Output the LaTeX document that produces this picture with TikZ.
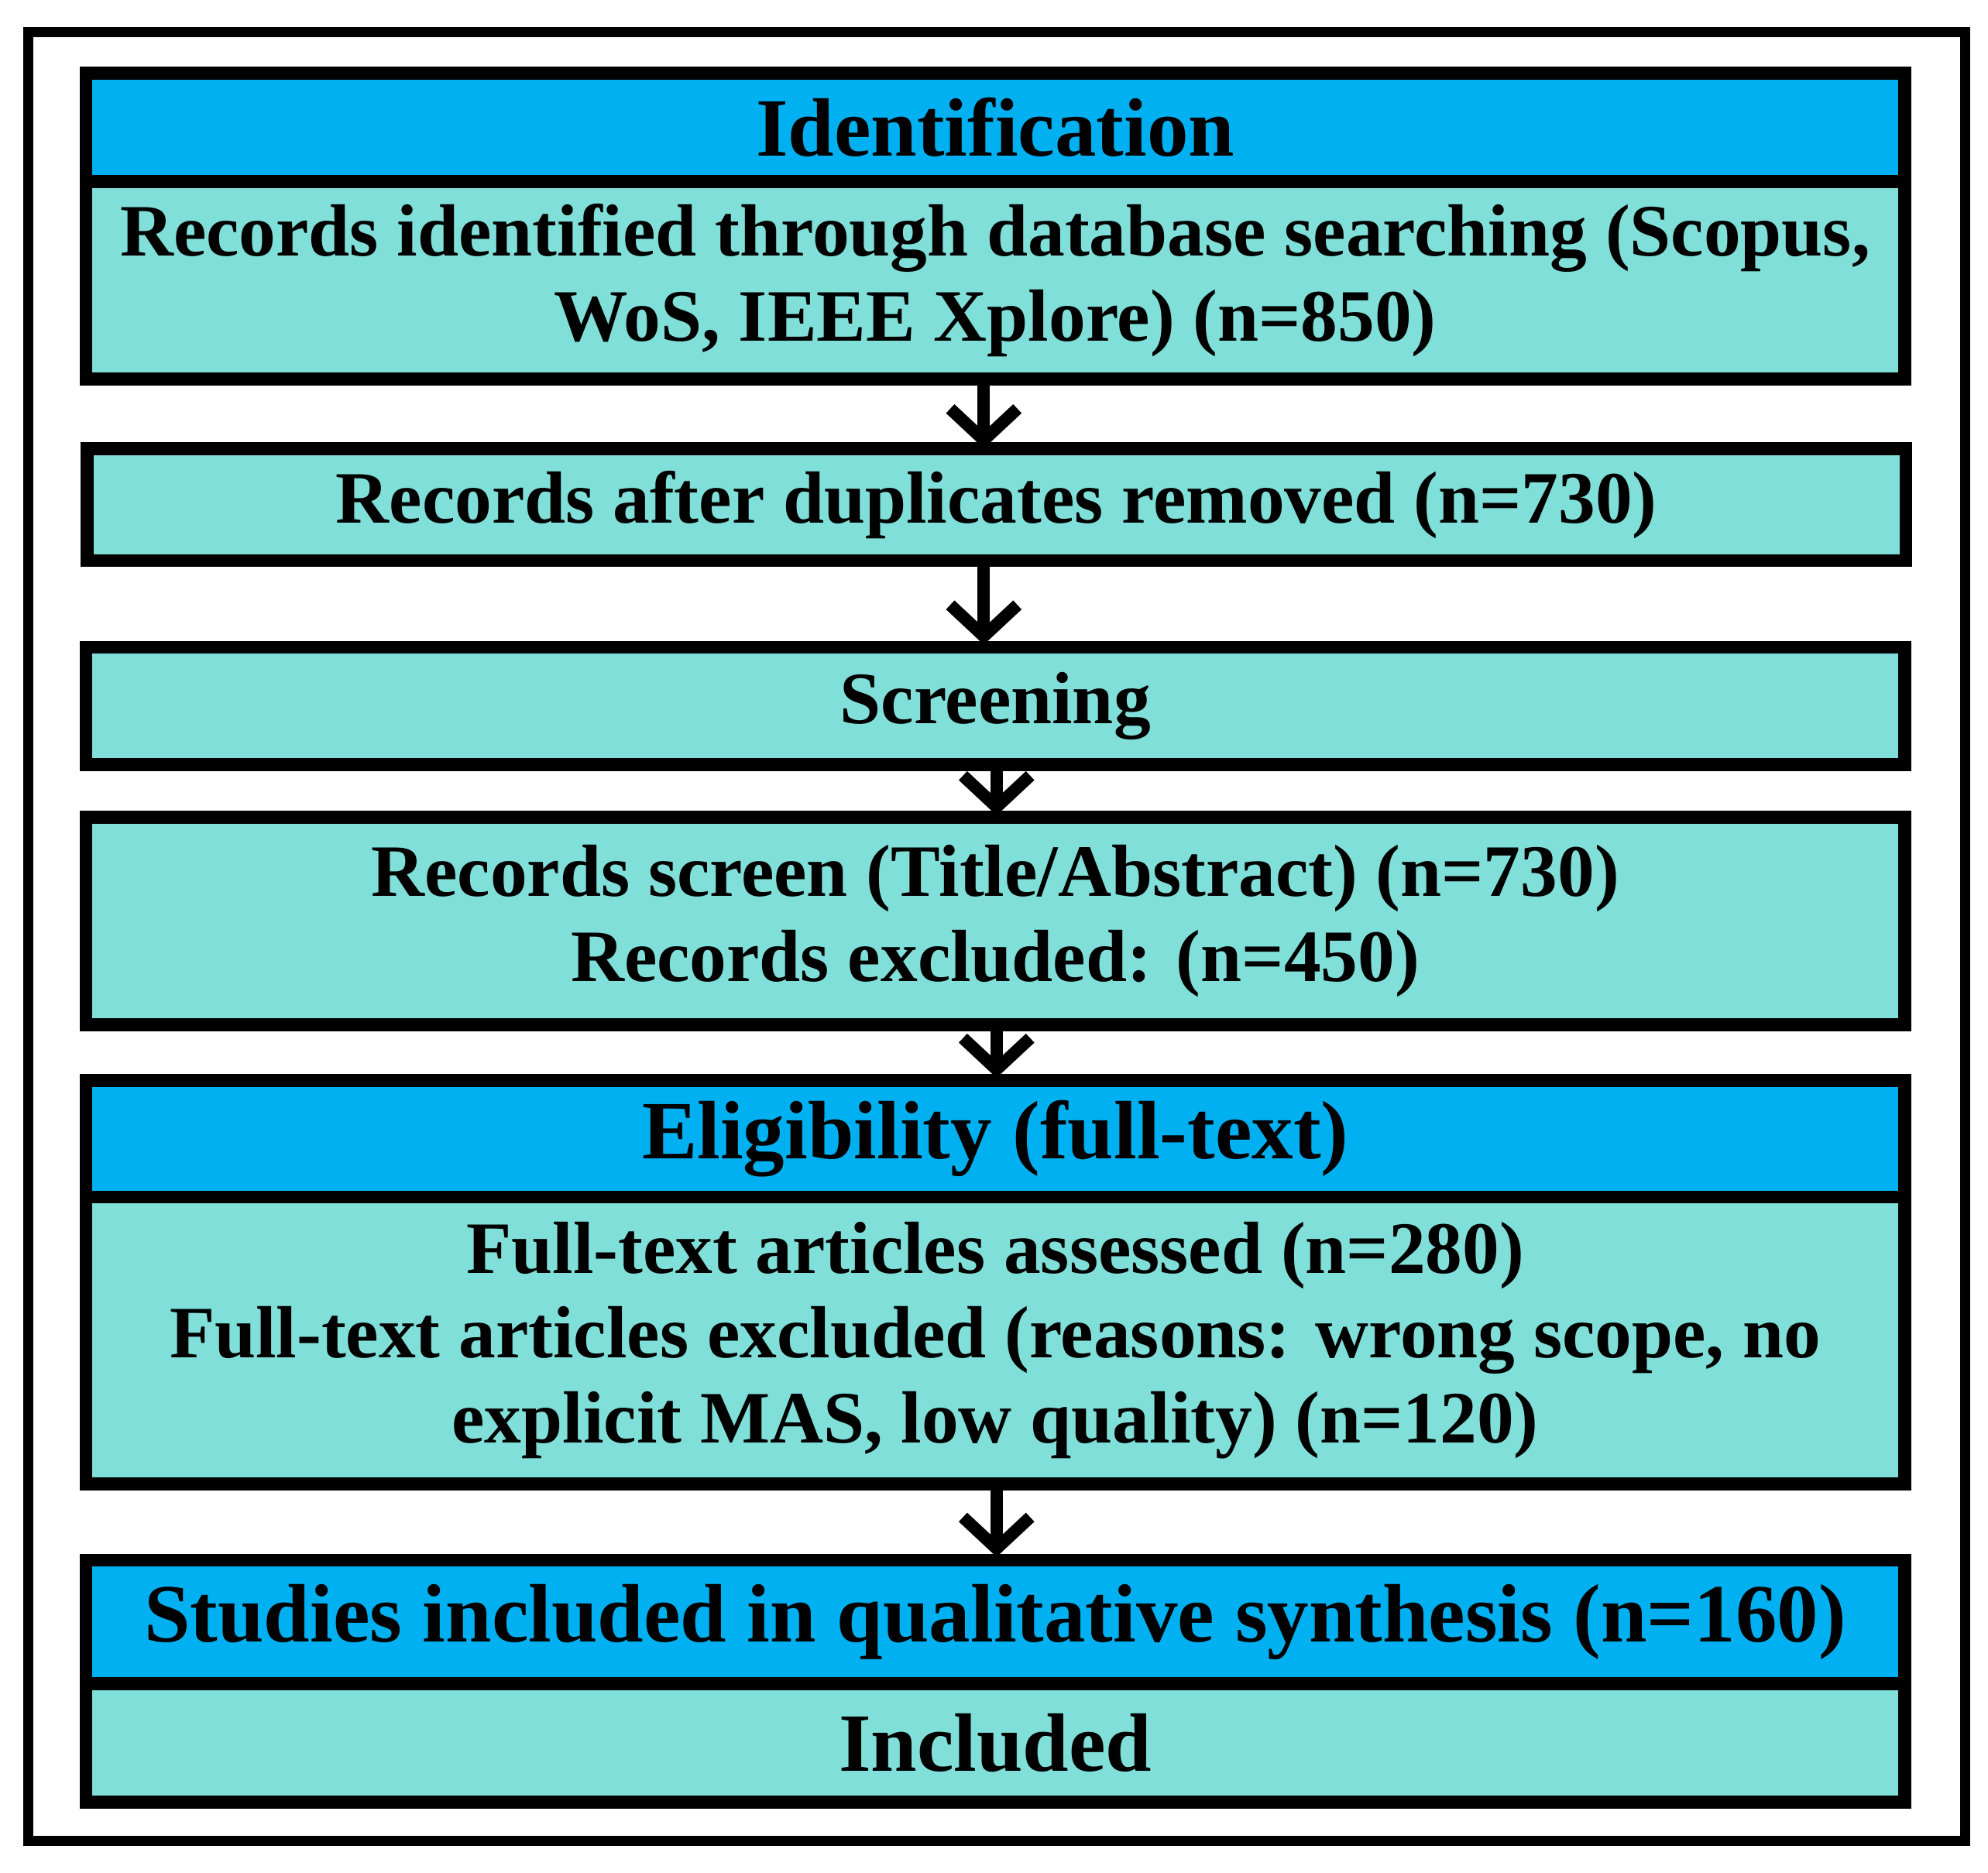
\documentclass[tikz,border=0pt]{standalone}
\usepackage{fontspec}
\setmainfont{Liberation Serif}
\usetikzlibrary{arrows.meta}
\definecolor{hdr}{HTML}{00B0F0}
\definecolor{bod}{HTML}{80DFD8}
\begin{document}
\begin{tikzpicture}[x=0.02cm,y=-0.02cm,
  bx/.style={draw=black,line width=5.8pt,minimum width=28.55cm,align=center,font=\bfseries\fontsize{33}{38}\selectfont,inner sep=0pt},
  hd/.style={bx,fill=hdr,font=\bfseries\fontsize{37}{42}\selectfont},
  bd/.style={bx,fill=bod},
  ar/.style={line width=5.5pt,-{Straight Barb[length=14pt,width=30pt,line width=5.5pt]}}]
\useasboundingbox (0,0) rectangle (1560,1470);
\draw[line width=4.5pt] (22,25) rectangle (1542,1445);
\node[hd,minimum height=1.7cm] (h1) at (781,100) {Identification};
\node[bd,minimum height=3.1cm] (b1) at (781,220) {Records identified through database searching (Scopus,\\WoS, IEEE Xplore) (n=850)};
\node[bd,minimum height=1.76cm] (b2) at (782,396) {Records after duplicates removed (n=730)};
\node[bd,minimum height=1.84cm] (b3) at (781,554) {Screening};
\node[bd,minimum height=3.26cm] (b4) at (781,723) {Records screen (Title/Abstract) (n=730)\\Records excluded: (n=450)};
\node[hd,minimum height=1.84cm] (h5) at (781,894) {Eligibility (full-text)};
\node[bd,minimum height=4.5cm] (b5) at (781,1052) {Full-text articles assessed (n=280)\\Full-text articles excluded (reasons: wrong scope, no\\explicit MAS, low quality) (n=120)};
\node[hd,minimum height=1.94cm] (h6) at (781,1273) {Studies included in qualitative synthesis (n=160)};
\node[bd,minimum height=1.86cm,font=\bfseries\fontsize{37}{42}\selectfont] (b6) at (781,1368) {Included};
\draw[ar] (772,298) -- (772,352);
\draw[ar] (772,440) -- (772,506);
\draw[ar] (782,600) -- (782,640);
\draw[ar] (782,805) -- (782,846);
\draw[ar] (782,1165) -- (782,1222);
\end{tikzpicture}
\end{document}
